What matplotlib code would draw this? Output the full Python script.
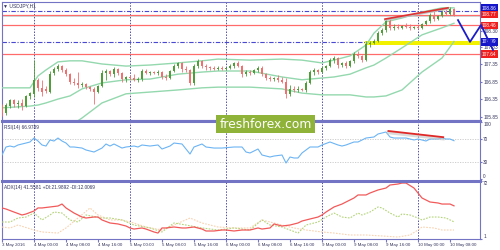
import numpy as np
import matplotlib
matplotlib.use("Agg")
import matplotlib.pyplot as plt
import matplotlib.transforms as mtransforms
from matplotlib.lines import Line2D
from matplotlib.patches import Rectangle

plt.rcParams['font.family'] = ['Liberation Sans', 'DejaVu Sans']

# ---- USDJPY H1 candles (3 May 16:00 .. 10 May 09:00) ----
opens = [106.16, 105.96, 106.16, 106.33, 106.22, 106.25, 106.16, 106.45, 106.50, 106.90,
         106.68, 106.65, 106.56, 107.10, 107.22, 107.30, 107.19, 107.07, 106.85, 106.82,
         106.76, 106.79, 106.70, 106.65, 106.56, 106.73, 107.10, 107.16, 107.07, 107.22,
         107.10, 106.93, 106.99, 106.96, 106.90, 106.93, 107.16, 107.10, 107.13, 107.10,
         107.13, 106.99, 106.96, 107.16, 107.30, 107.39, 107.22, 107.19, 106.82, 107.30,
         107.45, 107.30, 107.27, 107.25, 107.22, 107.25, 107.22, 107.25, 107.30, 107.39,
         107.30, 107.07, 107.13, 107.10, 107.19, 107.25, 107.07, 106.96, 106.93, 106.96,
         106.90, 106.85, 106.50, 106.65, 106.62, 106.65, 106.62, 106.82, 107.13, 107.19,
         107.13, 107.25, 107.30, 107.47, 107.53, 107.33, 107.39, 107.30, 107.45, 107.65,
         107.59, 107.47, 107.93, 107.96, 108.02, 108.24, 108.33, 108.59, 108.39, 108.41,
         108.39, 108.44, 108.41, 108.39, 108.41, 108.39, 108.50, 108.59, 108.76, 108.64,
         108.73, 108.84, 108.79, 108.93]
highs = [106.22, 106.25, 106.36, 106.36, 106.33, 106.36, 106.48, 106.56, 107.47, 106.96,
         106.90, 106.73, 107.16, 107.27, 107.36, 107.33, 107.25, 107.10, 106.96, 107.13,
         106.85, 106.82, 106.73, 106.70, 106.76, 107.19, 107.22, 107.19, 107.27, 107.25,
         107.13, 107.02, 107.05, 107.07, 106.99, 107.22, 107.22, 107.16, 107.16, 107.19,
         107.16, 107.07, 107.19, 107.36, 107.42, 107.42, 107.30, 107.22, 107.36, 107.50,
         107.47, 107.36, 107.30, 107.30, 107.30, 107.30, 107.27, 107.36, 107.42, 107.45,
         107.33, 107.19, 107.19, 107.22, 107.30, 107.30, 107.10, 107.02, 106.99, 107.05,
         106.99, 106.96, 106.76, 106.73, 106.73, 106.68, 106.88, 107.19, 107.25, 107.22,
         107.30, 107.33, 107.53, 107.59, 107.56, 107.42, 107.45, 107.47, 107.70, 107.73,
         107.62, 108.02, 108.02, 108.07, 108.30, 108.39, 108.67, 108.64, 108.50, 108.50,
         108.47, 108.53, 108.50, 108.44, 108.47, 108.53, 108.61, 108.81, 108.87, 108.76,
         108.90, 108.96, 108.98, 108.96]
lows = [105.88, 105.91, 106.11, 106.13, 106.11, 106.05, 106.13, 106.36, 106.42, 106.59,
        106.45, 106.53, 106.53, 107.05, 107.16, 107.13, 107.02, 106.79, 106.76, 106.68,
        106.70, 106.65, 106.59, 106.22, 106.53, 106.70, 106.90, 107.02, 106.99, 107.05,
        106.85, 106.85, 106.90, 106.88, 106.85, 106.88, 107.07, 107.05, 107.07, 107.05,
        106.93, 106.90, 106.93, 107.13, 107.25, 107.13, 107.13, 106.76, 106.76, 107.25,
        107.25, 107.19, 107.19, 107.19, 107.19, 107.19, 107.19, 107.22, 107.25, 107.27,
        106.99, 107.02, 107.05, 107.07, 107.13, 107.02, 106.90, 106.88, 106.88, 106.85,
        106.82, 106.39, 106.45, 106.56, 106.56, 106.59, 106.56, 106.79, 107.05, 107.07,
        107.10, 107.19, 107.27, 107.39, 107.25, 107.27, 107.25, 107.27, 107.39, 107.53,
        107.42, 107.45, 107.84, 107.93, 107.99, 108.19, 108.27, 108.33, 108.33, 108.36,
        108.36, 108.39, 108.33, 108.36, 108.36, 108.36, 108.47, 108.53, 108.59, 108.61,
        108.70, 108.76, 108.76, 108.73]
closes = [105.96, 106.19, 106.33, 106.22, 106.25, 106.16, 106.45, 106.53, 106.90, 106.68,
          106.56, 106.59, 107.07, 107.22, 107.30, 107.19, 107.07, 106.85, 106.82, 106.76,
          106.79, 106.70, 106.65, 106.56, 106.73, 107.10, 107.16, 107.07, 107.22, 107.10,
          106.93, 106.99, 106.96, 106.90, 106.93, 107.16, 107.10, 107.13, 107.10, 107.13,
          106.99, 106.96, 107.16, 107.30, 107.39, 107.22, 107.19, 106.82, 107.30, 107.45,
          107.30, 107.27, 107.25, 107.22, 107.25, 107.22, 107.25, 107.30, 107.39, 107.30,
          107.07, 107.13, 107.10, 107.19, 107.25, 107.07, 106.96, 106.93, 106.96, 106.90,
          106.85, 106.50, 106.65, 106.62, 106.65, 106.62, 106.82, 107.13, 107.19, 107.13,
          107.25, 107.30, 107.47, 107.53, 107.33, 107.39, 107.30, 107.45, 107.65, 107.59,
          107.47, 107.93, 107.96, 108.02, 108.24, 108.33, 108.59, 108.39, 108.41, 108.39,
          108.44, 108.41, 108.39, 108.41, 108.39, 108.50, 108.59, 108.76, 108.64, 108.73,
          108.84, 108.79, 108.93, 108.77]

# Bollinger bands (sampled bars)
bb_idx = [0, 7, 9, 11, 14, 17, 20, 25, 31, 37, 44, 50, 54, 62, 70, 75, 80, 83, 87, 91, 93, 96, 100, 105, 110, 113]
bb_upper = [106.68, 106.68, 107.02, 107.19, 107.42, 107.45, 107.45, 107.36, 107.30, 107.33, 107.39, 107.45, 107.50,
            107.47, 107.50, 107.47, 107.39, 107.47, 107.59, 107.90, 108.24, 108.56, 108.67, 108.84, 108.96, 108.96]
bb_middle = [106.11, 106.16, 106.19, 106.25, 106.36, 106.45, 106.65, 106.82, 106.91, 106.93, 107.07, 107.13, 107.16,
             107.16, 106.99, 106.91, 106.96, 106.99, 107.07, 107.25, 107.33, 107.53, 107.82, 108.19, 108.39, 108.52]
bb_lower = [105.48, 105.48, 105.45, 105.45, 105.48, 105.59, 105.82, 106.25, 106.51, 106.56, 106.62, 106.68, 106.70,
            106.70, 106.65, 106.53, 106.48, 106.48, 106.48, 106.42, 106.42, 106.45, 106.62, 107.13, 107.53, 108.00]

# RSI(14)
rsi_idx = [0, 1, 2, 3, 4, 6, 7, 8, 9, 10, 11, 12, 13, 14, 15, 16, 17, 18, 20, 21, 23, 25, 26, 27, 28, 30, 31, 33,
           34, 35, 37, 39, 40, 42, 43, 45, 46, 47, 48, 50, 51, 53, 55, 58, 60, 61, 62, 64, 65, 67, 68, 70, 71, 72,
           73, 74, 75, 77, 79, 80, 82, 84, 85, 86, 88, 89, 91, 93, 94, 96, 97, 98, 100, 101, 102, 103, 104, 106,
           107, 109, 110, 111, 112, 113]
rsi_val = [42.2, 56.1, 57.8, 56.1, 59.6, 63.0, 64.8, 71.7, 66.5, 59.6, 57.8, 68.3, 66.5, 71.7, 66.5, 63.0, 56.1,
           56.1, 54.3, 50.9, 47.4, 54.3, 61.3, 57.8, 61.3, 54.3, 56.1, 57.8, 56.1, 59.6, 57.8, 59.6, 52.6, 57.8,
           63.0, 61.3, 52.6, 43.9, 56.1, 61.3, 56.1, 54.3, 54.3, 56.1, 56.1, 47.4, 45.7, 52.6, 42.2, 38.7, 40.4,
           42.2, 28.3, 38.7, 37.0, 37.0, 45.7, 56.1, 56.1, 59.6, 64.8, 59.6, 57.8, 59.6, 64.8, 64.8, 71.7, 73.5,
           78.7, 82.2, 73.5, 71.7, 71.7, 71.7, 70.0, 68.3, 70.0, 66.5, 70.0, 70.0, 71.7, 70.0, 70.0, 67.0]

# ADX(14), +DI, -DI
adx_idx = [0, 1, 3, 5, 6, 8, 9, 10, 12, 14, 15, 16, 18, 20, 21, 23, 24, 25, 27, 29, 31, 32, 33, 35, 36, 38, 39,
           40, 41, 43, 45, 46, 48, 50, 51, 53, 55, 56, 58, 60, 62, 64, 65, 67, 68, 70, 72, 74, 75, 77, 79, 80, 81,
           83, 85, 86, 88, 89, 91, 92, 94, 96, 97, 99, 100, 101, 103, 104, 105, 107, 109, 110, 112, 113]
adx_val = [39.0, 37.7, 34.0, 30.4, 31.6, 35.3, 39.0, 39.0, 40.2, 41.4, 43.8, 39.0, 32.8, 27.9, 26.7, 27.9, 27.9,
           24.3, 20.6, 19.4, 16.9, 14.5, 13.2, 14.5, 13.2, 9.6, 8.3, 14.5, 14.5, 15.7, 14.5, 14.5, 15.7, 13.2,
           10.8, 10.8, 12.0, 12.0, 10.8, 12.0, 12.0, 14.5, 13.2, 14.5, 19.4, 16.9, 18.1, 20.6, 23.0, 25.5, 27.9,
           30.4, 34.0, 40.2, 43.8, 46.3, 51.2, 54.9, 54.9, 57.3, 61.0, 63.4, 67.1, 68.3, 69.5, 69.5, 63.4, 57.3,
           51.2, 46.3, 45.1, 43.8, 43.8, 41.6]
pdi_idx = [0, 2, 4, 6, 8, 10, 12, 13, 15, 17, 19, 21, 25, 27, 30, 33, 37, 40, 43, 46, 50, 54, 58, 62, 65, 67,
           70, 72, 74, 76, 79, 81, 83, 85, 87, 89, 90, 92, 94, 95, 97, 99, 100, 102, 104, 105, 107, 109, 111, 113]
pdi_val = [21.8, 21.8, 26.7, 27.9, 32.8, 24.3, 30.4, 34.0, 32.8, 24.3, 21.8, 30.4, 26.7, 26.7, 24.3, 18.1, 14.5,
           9.6, 20.6, 18.1, 14.5, 12.0, 14.5, 12.0, 24.3, 18.1, 15.7, 12.0, 8.3, 18.1, 21.8, 27.9, 32.8, 27.9,
           26.7, 32.8, 30.4, 34.0, 40.2, 39.0, 32.8, 27.9, 31.6, 30.4, 26.7, 24.3, 27.9, 27.9, 26.7, 22.0]
mdi_idx = [0, 2, 4, 8, 10, 14, 16, 19, 22, 24, 27, 30, 33, 36, 40, 43, 47, 50, 54, 58, 62, 65, 70, 73, 76, 80,
           83, 87, 91, 95, 99, 102, 104, 105, 108, 110, 113]
mdi_val = [15.7, 14.5, 18.1, 12.0, 9.6, 8.3, 14.5, 26.7, 39.0, 30.4, 24.3, 24.3, 20.6, 15.7, 12.0, 18.1, 26.7,
           20.6, 15.7, 14.5, 14.5, 24.3, 18.1, 14.5, 12.0, 9.6, 8.3, 5.9, 5.9, 4.7, 3.4, 5.9, 12.0, 15.7, 14.5,
           12.0, 12.0]

# time axis
date_idx = [0, 8, 16, 24, 32, 40, 48, 56, 64, 72, 80, 88, 96, 104, 112]
date_labels = ["3 May 2016", "4 May 00:00", "4 May 08:00", "4 May 16:00", "5 May 00:00", "5 May 08:00",
               "5 May 16:00", "6 May 00:00", "6 May 08:00", "6 May 16:00", "9 May 00:00", "9 May 08:00",
               "9 May 16:00", "10 May 00:00", "10 May 08:00"]
day_starts = [8, 32, 56, 80, 104]

# drawn levels / objects
price_ticks = [108.30, 107.83, 107.35, 106.85, 106.35, 105.85]
red_levels = [108.77, 108.46, 107.64]
blue_levels = [108.86, 107.99]
box_labels = ["108.86", "108.77", "108.46", "107.99", "107.64"]
box_label_y = [108.955, 108.77, 108.46, 107.99, 107.64]
box_colors = ["#1414c8", "#f01e1e", "#f01e1e", "#1414c8", "#f01e1e"]
zone_start, zone_low, zone_high = 90.75, 107.90, 108.01
trend_x, trend_y = [95.75, 111.5], [108.64, 108.96]
rsi_trend_x, rsi_trend_y = [96.6, 110.3], [83.9, 73.2]
arrow_x = [114, 117, 119.75, 122.75]
arrow_y = [108.61, 107.99, 108.47, 107.76]

frame = "#7474c4"
txt = "#34345e"
W, H = 500, 250


def px_box(x0, y0, x1, y1):
    return [x0 / W, 1 - y1 / H, (x1 - x0) / W, (y1 - y0) / H]


fig = plt.figure(figsize=(5, 2.5), dpi=100)
ax = fig.add_axes(px_box(2, 2, 480, 120))
ax_rsi = fig.add_axes(px_box(2, 121, 480, 181))
ax_adx = fig.add_axes(px_box(2, 181, 480, 239))

for a in (ax, ax_rsi, ax_adx):
    a.set_xlim(0, 119.5)
    for s in a.spines.values():
        s.set_color(frame)
        s.set_linewidth(0.8)
    a.yaxis.tick_right()
    a.tick_params(axis='y', labelsize=3.4, length=1.5, pad=0.8, colors=frame, labelcolor=txt)
    for d in day_starts:
        a.axvline(d, color="#5050a8", lw=0.7, ls=(0, (1.5, 1.5)), zorder=1)
for a in (ax, ax_rsi):
    a.set_xticks([])

# ---- main price window ----
ax.set_ylim(105.7635, 109.1265)
ax.set_yticks(price_ticks)
ax.set_yticklabels(["%.2f" % p for p in price_ticks])

for lv in blue_levels:
    ax.axhline(lv, color="#4848d0", lw=0.8, ls=(0, (4, 1.5, 1, 1.5)), zorder=2)
for lv in red_levels:
    ax.axhline(lv, color="#ff6a6a", lw=0.9, zorder=2)
ax.axhline(108.72, color="#cccccc", lw=0.6, zorder=2)

ax.add_patch(Rectangle((zone_start, zone_low), 119.5 - zone_start, zone_high - zone_low,
                       fc="#f2f200", ec="none", zorder=2))

ax.plot(bb_idx, bb_upper, color="#94d8ae", lw=1, zorder=3)
ax.plot(bb_idx, bb_middle, color="#94d8ae", lw=1, zorder=3)
ax.plot(bb_idx, bb_lower, color="#94d8ae", lw=1, zorder=3)

bars = np.arange(len(closes))
o = np.array(opens)
c = np.array(closes)
up = c >= o
col = np.where(up, "#4f9e3a", "#f07070")
ax.vlines(bars, lows, highs, colors=col, lw=0.6, zorder=4)
body = np.maximum(np.abs(c - o), 0.008)
ax.bar(bars, body, bottom=np.minimum(o, c), width=0.55, color=col, zorder=4)

ax.plot(trend_x, [v - 0.03 for v in trend_y], color="#bbbbbb", lw=1.2, zorder=5)
ax.plot(trend_x, trend_y, color="#e03030", lw=1.2, zorder=5)

ax.plot(arrow_x, arrow_y, color="#1c1cc8", lw=1.3, zorder=10, clip_on=False)
ax.annotate("", xy=(arrow_x[-1], arrow_y[-1]), xytext=(arrow_x[-2] + 2.2, arrow_y[-2] - 0.52),
            arrowprops=dict(arrowstyle="->", color="#1c1cc8", lw=1.3, mutation_scale=9),
            annotation_clip=False, zorder=10)

trans = mtransforms.blended_transform_factory(ax.transAxes, ax.transData)
for lab, yv, bc in zip(box_labels, box_label_y, box_colors):
    ax.text(1.004, yv, lab, transform=trans, fontsize=3.4, color="white", va="center", ha="left",
            bbox=dict(boxstyle="square,pad=0.25", fc=bc, ec="none"), clip_on=False, zorder=6)

ax.text(0.003, 0.985, "▼ USDJPY,H1", transform=ax.transAxes, fontsize=3.6, color=txt,
        va="top", ha="left")

# ---- RSI window ----
ax_rsi.set_ylim(-3.0, 101.3)
ax_rsi.axhline(70, color="#c8c8c8", lw=0.6, ls=(0, (1.5, 1.5)))
ax_rsi.axhline(30, color="#c8c8c8", lw=0.6, ls=(0, (1.5, 1.5)))
ax_rsi.plot(rsi_idx, rsi_val, color="#6cb4f4", lw=0.8, zorder=3)
ax_rsi.plot(rsi_trend_x, [v - 3 for v in rsi_trend_y], color="#c4c4c4", lw=2.2, alpha=0.6, zorder=4)
ax_rsi.plot(rsi_trend_x, rsi_trend_y, color="#e02828", lw=1.3, zorder=5)
ax_rsi.set_yticks([100, 70, 30, 0])
ax_rsi.set_yticklabels(["100", "70", "30", "0"])
lbls = ax_rsi.get_yticklabels()
lbls[0].set_va("top")
lbls[-1].set_va("bottom")
ax_rsi.text(0.004, 0.94, "RSI(14) 66.9789", transform=ax_rsi.transAxes, fontsize=3.4, color=txt,
            va="top", ha="left")

# ---- ADX window ----
ax_adx.set_ylim(1, 72)
ax_adx.plot(mdi_idx, mdi_val, color="#f9d2b0", lw=0.8, ls=(0, (1.5, 1.2)), zorder=3)
ax_adx.plot(pdi_idx, pdi_val, color="#b4d47a", lw=0.8, ls=(0, (1.5, 1.2)), zorder=3)
ax_adx.plot(adx_idx, adx_val, color="#f25a5a", lw=0.9, zorder=4)
ax_adx.set_yticks([72, 1])
ax_adx.set_yticklabels(["72", "1"])
lbls = ax_adx.get_yticklabels()
lbls[0].set_va("top")
lbls[1].set_va("bottom")
ax_adx.text(0.004, 0.93, "ADX(14) 41.5581 +DI:21.9892 -DI:12.0069", transform=ax_adx.transAxes,
            fontsize=3.4, color=txt, va="top", ha="left")
ax_adx.set_xticks(date_idx)
ax_adx.set_xticklabels(date_labels, ha="left")
ax_adx.tick_params(axis='x', labelsize=3.2, length=2, pad=1, colors=frame, labelcolor=txt)

# thick window separators
for yy in (120.5, 180.5):
    fig.add_artist(Line2D([2 / W, 480 / W], [1 - yy / H] * 2, lw=2.2, color=frame))

# watermark
fig.add_artist(Rectangle((216 / W, 1 - 133 / H), 99 / W, 18 / H, transform=fig.transFigure,
                         fc="#8fb339", ec="none", zorder=5))
fig.text(265.5 / W, 1 - 124.5 / H, "freshforex.com", color="white", fontsize=8.8,
         family="DejaVu Sans", ha="center", va="center", zorder=6)

fig.savefig("out.png", dpi=100)
